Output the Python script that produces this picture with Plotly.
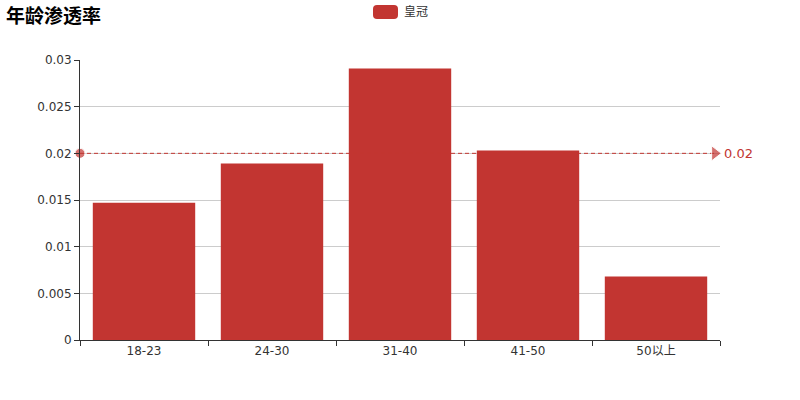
import plotly.graph_objects as go

categories = ['18-23', '24-30', '31-40', '41-50', '50以上']
rates = [0.0147, 0.0189, 0.0291, 0.0203, 0.0068]
mark_value = 0.02
series_name = '皇冠'
title_text = '年龄渗透率'

red = '#c23531'
font_main = 'DejaVu Sans, Noto Sans CJK SC, sans-serif'

left, top, pw, ph = 80, 60, 640, 280

fig = go.Figure()
fig.add_trace(go.Bar(x=categories, y=rates, name=series_name,
                     marker=dict(color=red, line=dict(width=0)),
                     showlegend=False))

# mark line drawn as dashed line with start dot and end arrow
fig.add_trace(go.Scatter(x=[0, 0.992], y=[mark_value, mark_value], xaxis='x2',
                         mode='lines+markers', cliponaxis=False,
                         line=dict(color=red, width=1, dash='4px,3px'),
                         marker=dict(symbol=['circle', 'triangle-right'], size=[10, 13],
                                     color=red),
                         showlegend=False, hoverinfo='skip'))

fig.add_annotation(x=1.0, y=mark_value, xref='paper', yref='y', text=f'{mark_value:g}',
                   showarrow=False, xanchor='left', xshift=2,
                   font=dict(color=red, size=13, family=font_main))

# title
fig.add_annotation(x=0, y=1, xref='paper', yref='paper', text=f'<b>{title_text}</b>',
                   showarrow=False, xanchor='left', yanchor='middle',
                   xshift=4 - left, yshift=top - 14,
                   font=dict(size=19, color='#000', family='Noto Sans CJK SC, sans-serif'))

# legend
fig.add_shape(type='path', xref='paper', yref='paper',
              xsizemode='pixel', ysizemode='pixel',
              xanchor=(385.5 - left) / pw, yanchor=(top + ph - 12) / ph,
              path='M -8.5,-7 L 8.5,-7 Q 12.5,-7 12.5,-3 L 12.5,3 Q 12.5,7 8.5,7 '
                   'L -8.5,7 Q -12.5,7 -12.5,3 L -12.5,-3 Q -12.5,-7 -8.5,-7 Z',
              fillcolor=red, line=dict(width=0))
fig.add_annotation(x=(402 - left) / pw, y=(top + ph - 12) / ph, xref='paper', yref='paper',
                   text=series_name, showarrow=False, xanchor='left', yanchor='middle',
                   font=dict(size=12, color='#333', family=font_main))

fig.update_layout(
    width=800, height=400,
    margin=dict(l=left, r=800 - left - pw, t=top, b=400 - top - ph),
    paper_bgcolor='white', plot_bgcolor='white',
    bargap=0.2,
    font=dict(family=font_main, size=12, color='#333'),
    xaxis=dict(type='category', range=[-0.5, 4.5], showline=True, linecolor='#333',
               linewidth=1, ticks='outside', tickson='boundaries', ticklen=5,
               tickcolor='#333', showgrid=False, tickfont=dict(size=12, color='#333')),
    yaxis=dict(range=[0, 0.03], dtick=0.005, showline=True, linecolor='#333',
               linewidth=1, ticks='outside', ticklen=5, tickcolor='#333',
               showgrid=True, gridcolor='#ccc', gridwidth=1, zeroline=False,
               tickfont=dict(size=12, color='#333')),
    xaxis2=dict(overlaying='x', range=[0, 1], visible=False, fixedrange=True),
)

# drop the default page margin so the figure sits at the window corner
fig.write_html('out.html', config={'displayModeBar': False},
               post_script="document.body.style.margin='0';")
